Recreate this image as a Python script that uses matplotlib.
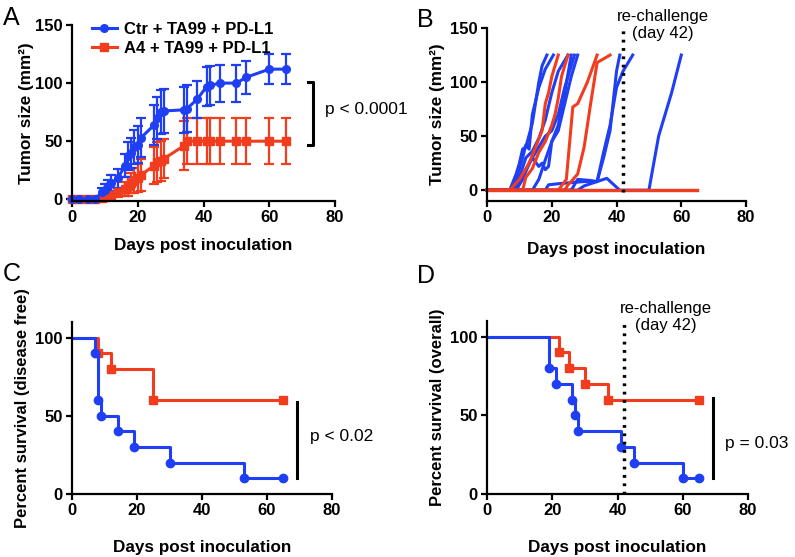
import matplotlib
matplotlib.use("Agg")
import matplotlib.pyplot as plt
from matplotlib.lines import Line2D

plt.rcParams['font.family'] = ['Liberation Sans', 'DejaVu Sans']

BLUE = '#1f3ff5'
RED = '#f23c1e'

###############################################################################
# Panel A: mean tumor size +- SEM

days_a = [0, 2, 5, 7, 9, 10, 11, 12, 14, 16, 17, 18, 19, 20, 21, 25, 26, 27, 28,
          34, 35, 38, 41, 42, 45, 50, 53, 60, 65]
ctr_mean = [0, 0, 0, 0, 6, 8, 11, 14, 18, 29, 37, 40, 45, 47, 53, 64, 70, 75, 76,
            77, 78, 86, 97, 98, 100, 100, 105, 112, 112]
ctr_sem = [0, 0, 0, 0, 4, 5, 6, 7, 8, 10, 12, 13, 15, 16, 17, 17, 18, 19, 19,
           20, 20, 16, 17, 17, 16, 16, 14, 13, 13]
a4_mean = [0, 0, 0, 0, 1, 2, 3, 4, 6, 9, 11, 14, 16, 18, 21, 29, 32, 33, 35,
           46, 50, 50, 50, 50, 50, 50, 50, 50, 50]
a4_sem = [0, 0, 0, 0, 1, 1.5, 2, 3, 4, 6, 8, 9, 11, 12, 14, 16, 17, 17, 17,
          21, 20, 20, 20, 20, 20, 20, 20, 20, 20]

###############################################################################
# Panel B: individual mice (day, size), capped at 125

ctr_mice = [
    ([0, 7, 9, 10, 11, 12, 14, 16, 17, 18.5], [0, 0, 15, 25, 38, 40, 62, 100, 115, 125]),
    ([0, 8, 10, 11, 12, 13, 14, 16, 18, 20.5], [0, 0, 20, 30, 42, 38, 70, 95, 112, 125]),
    ([0, 8, 10, 12, 14, 16, 18, 20, 22, 25], [0, 0, 12, 30, 36, 48, 65, 90, 110, 125]),
    ([0, 8, 10, 12, 14, 16, 17, 18, 19, 20, 22, 24, 26],
     [0, 0, 8, 18, 30, 22, 25, 19, 22, 45, 60, 90, 125]),
    ([0, 9, 11, 13, 16, 18, 20, 22, 24, 27], [0, 0, 10, 25, 40, 50, 55, 70, 95, 125]),
    ([0, 14, 16, 18, 20, 22, 24, 26, 28], [0, 0, 10, 28, 45, 55, 80, 105, 125]),
    ([0, 18, 19, 22, 26, 30, 34, 37, 41, 50, 53, 57, 60],
     [0, 0, 5, 6, 7, 8, 8, 11, 0, 0, 50, 90, 125]),
    ([0, 26, 28, 32, 34, 36, 38, 40, 41], [0, 0, 10, 9, 8, 30, 55, 110, 125]),
    ([0, 28, 30, 34, 36, 38, 40, 42, 45], [0, 0, 4, 8, 35, 60, 95, 110, 125]),
    ([0, 65], [0, 0]),
]
a4_mice = [
    ([0, 7, 10, 13, 15, 17, 18, 19, 20, 22], [0, 0, 10, 25, 40, 55, 80, 90, 105, 125]),
    ([0, 11, 12, 14, 16, 18, 20, 21, 22, 23, 25], [0, 0, 12, 20, 35, 45, 60, 70, 85, 105, 125]),
    ([0, 22, 23, 24.5, 26.5, 28, 31, 34], [0, 0, 4, 10, 77, 80, 100, 125]),
    ([0, 24, 25, 26, 28, 30, 32, 34, 38], [0, 0, 5, 8, 15, 40, 80, 118, 125]),
    ([0, 65], [0, 0]),
    ([0, 65], [0, 0]),
    ([0, 65], [0, 0]),
    ([0, 65], [0, 0]),
    ([0, 65], [0, 0]),
    ([0, 65], [0, 0]),
]

###############################################################################
# Panels C/D: Kaplan-Meier steps

dfs_ctr_t = [0, 7, 8, 9, 14, 19, 30, 53, 65]
dfs_ctr_s = [100, 90, 60, 50, 40, 30, 20, 10, 10]
dfs_a4_t = [0, 8, 12, 25, 65]
dfs_a4_s = [100, 90, 80, 60, 60]

os_ctr_t = [0, 19, 21, 26, 27, 28, 41, 45, 60, 65]
os_ctr_s = [100, 80, 70, 60, 50, 40, 30, 20, 10, 10]
os_a4_t = [0, 22, 25, 30, 37, 65]
os_a4_s = [100, 90, 80, 70, 60, 60]

RECHALLENGE = 42


def style_axes(ax, yticks, ylim, xpad):
    for s in ['top', 'right']:
        ax.spines[s].set_visible(False)
    for s in ['left', 'bottom']:
        ax.spines[s].set_linewidth(1.6)
    ax.tick_params(direction='out', length=4.5, width=1.6, labelsize=12, pad=2)
    ax.set_xlim(0, 80)
    ax.set_xticks([0, 20, 40, 60, 80])
    ax.set_ylim(*ylim)
    ax.set_yticks(yticks)
    for lab in ax.get_xticklabels() + ax.get_yticklabels():
        lab.set_fontweight('bold')
    ax.set_xlabel('Days post inoculation', fontsize=12.3, fontweight='bold', labelpad=xpad)


def km(ax, t, s, color, marker):
    ax.step(t, s, where='post', color=color, lw=2.2, clip_on=False)
    ax.plot(t[1:], s[1:], linestyle='none', marker=marker, color=color, ms=6,
            clip_on=False)


fig = plt.figure(figsize=(7.95, 5.57), dpi=100)

axA = fig.add_axes([0.0906, 0.6391, 0.3308, 0.316])
axB = fig.add_axes([0.6126, 0.6391, 0.3258, 0.3106])
axC = fig.add_axes([0.0906, 0.1131, 0.327, 0.3088])
axD = fig.add_axes([0.6126, 0.1131, 0.3283, 0.3106])

# A
axA.errorbar(days_a, a4_mean, yerr=a4_sem, color=RED, marker='s', ms=5.5, lw=2.2,
             elinewidth=1.6, capsize=3.8, capthick=1.6, clip_on=False)
axA.errorbar(days_a, ctr_mean, yerr=ctr_sem, color=BLUE, marker='o', ms=5.5, lw=2.2,
             elinewidth=1.6, capsize=3.8, capthick=1.6, clip_on=False)
style_axes(axA, [0, 50, 100, 150], (-1.5, 150), 9)
axA.set_ylabel('Tumor size (mm²)', fontsize=12.3, fontweight='bold', labelpad=1)
handles = [Line2D([], [], color=BLUE, marker='o', ms=5.5, lw=2.2),
           Line2D([], [], color=RED, marker='s', ms=5.5, lw=2.2)]
axA.legend(handles, ['Ctr + TA99 + PD-L1', 'A4 + TA99 + PD-L1'], loc='upper left',
           bbox_to_anchor=(0.05, 1.055), frameon=False, handlelength=1.5,
           handletextpad=0.4, labelspacing=0.25, borderaxespad=0,
           prop={'weight': 'bold', 'size': 12})
axA.plot([71.8, 73.3, 73.3, 71.8], [100.9, 100.9, 46.6, 46.6], color='black', lw=2.2,
         clip_on=False)
axA.text(77, 77.6, 'p < 0.0001', fontsize=12.5, va='center', ha='left')

# B
for t, v in ctr_mice:
    axB.plot(t, v, color=BLUE, lw=2.2, clip_on=False)
for t, v in a4_mice:
    axB.plot(t, v, color=RED, lw=2.2, clip_on=False)
axB.axvline(RECHALLENGE, ymin=0.05, ymax=1.0, color='black', lw=2.5,
            linestyle=(0, (0.8, 1.6)))
style_axes(axB, [0, 50, 100, 150], (-10, 150), 12)
axB.set_ylabel('Tumor size (mm²)', fontsize=12.3, fontweight='bold', labelpad=4)
axB.text(54.4, 153, 're-challenge\n(day 42)', fontsize=12, ha='center', va='center',
         linespacing=1.15)

# C
km(axC, dfs_a4_t, dfs_a4_s, RED, 's')
km(axC, dfs_ctr_t, dfs_ctr_s, BLUE, 'o')
style_axes(axC, [0, 50, 100], (0, 110), 16)
axC.set_ylabel('Percent survival (disease free)', fontsize=12, fontweight='bold',
               labelpad=4)
axC.plot([69.1, 69.1], [10, 59], color='black', lw=2.2, clip_on=False)
axC.text(73.2, 36.5, 'p < 0.02', fontsize=12.5, va='center', ha='left')

# D
km(axD, os_a4_t, os_a4_s, RED, 's')
km(axD, os_ctr_t, os_ctr_s, BLUE, 'o')
axD.axvline(RECHALLENGE, ymin=0.0, ymax=1.0, color='black', lw=2.5,
            linestyle=(0, (0.8, 1.6)))
style_axes(axD, [0, 50, 100], (0, 110), 16)
axD.set_ylabel('Percent survival (overall)', fontsize=12, fontweight='bold', labelpad=4)
axD.plot([69.4, 69.4], [10, 61], color='black', lw=2.2, clip_on=False)
axD.text(73, 32.3, 'p = 0.03', fontsize=12.5, va='center', ha='left')
axD.text(54.8, 112.4, 're-challenge\n(day 42)', fontsize=12, ha='center', va='center',
         linespacing=1.15)

# panel letters
fig.text(0.004, 0.955, 'A', fontsize=18)
fig.text(0.5245, 0.9515, 'B', fontsize=18)
fig.text(0.004, 0.4955, 'C', fontsize=18)
fig.text(0.5245, 0.492, 'D', fontsize=18)

fig.savefig('out.png', dpi=100)
